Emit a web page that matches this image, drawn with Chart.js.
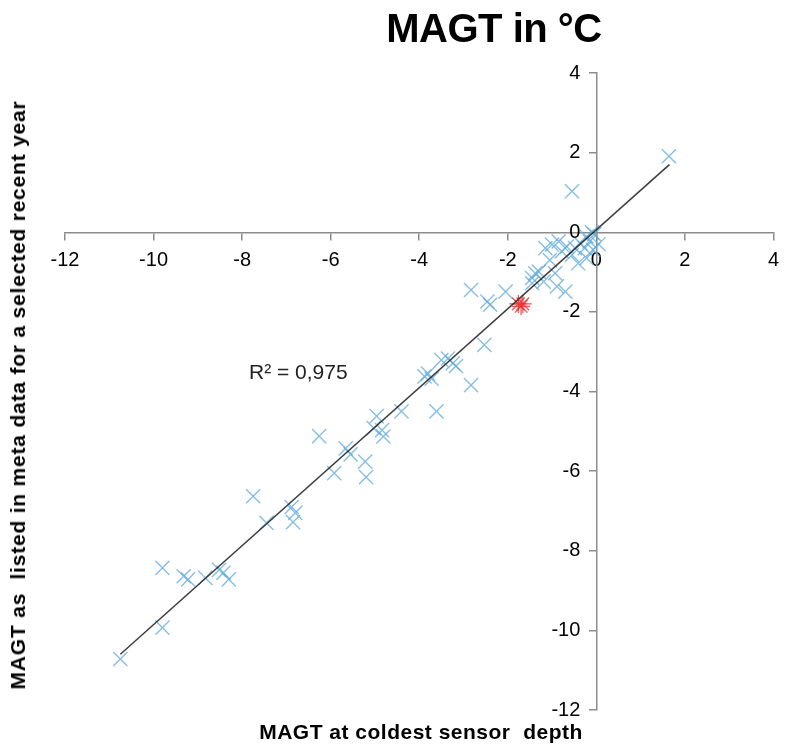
<!DOCTYPE html>
<html>
<head>
<meta charset="utf-8">
<script src="https://cdn.jsdelivr.net/npm/chart.js@4.4.1/dist/chart.umd.min.js"></script>
<style>
  html, body { margin: 0; padding: 0; background: #fff; }
  #wrap { position: relative; width: 788px; height: 746px; }
  #chart { position: absolute; left: 0; top: 0; }
  .lbl { position: absolute; font-family: "Liberation Sans", Arial, sans-serif; color: #000; white-space: nowrap; }
  #title { left: 494px; top: 6px; transform: translateX(-50%); font-size: 40px; font-weight: bold; letter-spacing: -0.5px; }
  #xTitle { left: 421px; top: 720px; transform: translateX(-50%); font-size: 21px; font-weight: bold; letter-spacing: 0.5px; }
  #yTitle { left: 18px; top: 395px; transform: translate(-50%, -50%) rotate(-90deg); font-size: 21px; font-weight: bold; letter-spacing: 0.8px; }
  #r2 { left: 249px; top: 360px; font-size: 21px; color: #222; }
</style>
</head>
<body>
<div id="wrap">
  <canvas id="chart" width="788" height="746"></canvas>
  <div class="lbl" id="title">MAGT in °C</div>
  <div class="lbl" id="xTitle">MAGT at coldest sensor&nbsp; depth</div>
  <div class="lbl" id="yTitle">MAGT as&nbsp; listed in meta data for a selected recent year</div>
  <div class="lbl" id="r2">R² = 0,975</div>
</div>
<script>
// station values
const coldestDepth = [
  1.64, -0.55, -10.75, -9.80, -9.80, -9.32, -9.22, -8.83, -8.52, -8.42, -8.30,
  -7.75, -7.45, -6.88, -6.80, -6.85, -6.26, -5.66, -5.55, -5.92, -5.22, -5.20,
  -4.96, -5.03, -4.84, -4.81, -4.40, -3.88, -3.80, -3.72, -3.50, -3.35, -3.24,
  -3.17, -2.83, -3.61, -2.53, -2.83, -2.46, -2.40, -2.05, -1.45, -1.38,
  -1.15, -1.00, -0.85, -0.78, -0.67, -0.55, -0.48, -0.37, -0.26, -0.22, -0.15,
  -0.07, -0.22, -0.41, -0.93, -0.89, -0.70, -1.30, -1.45, -1.19, 0.05, -0.05,
  -0.10, -1.05
];
const metaYear = [
  1.91, 1.03, -10.72, -9.93, -8.43, -8.64, -8.72, -8.68, -8.48, -8.55, -8.72,
  -6.63, -7.30, -6.90, -7.05, -7.28, -5.12, -5.43, -5.58, -6.05, -5.76, -6.15,
  -4.62, -4.92, -4.97, -5.13, -4.50, -3.62, -3.55, -3.68, -3.21, -3.17, -3.29,
  -3.36, -3.84, -4.50, -2.83, -1.45, -1.74, -1.82, -1.49, -1.28, -1.03,
  -0.40, -0.31, -0.23, -0.48, -0.36, -0.57, -0.40, -0.27, -0.40, -0.11, -0.23,
  -0.44, -0.65, -0.78, -1.03, -1.36, -1.49, -0.99, -1.15, -1.24, -0.30, -0.05,
  0.00, -0.70
];
const highlightX = [-1.76, -1.70, -1.66];
const highlightY = [-1.80, -1.86, -1.80];
const trendX = [-10.75, 1.65];
const trendY = [-10.60, 1.70];
const axisTicks = [-12, -10, -8, -6, -4, -2, 0, 2, 4];

const pts = (xs, ys) => xs.map((x, i) => ({ x: x, y: ys[i] }));
const font = { family: '"Liberation Sans", Arial, sans-serif', size: 20 };

// y labels sit left of the y axis crossing at x = 0
const yLabels = {
  id: 'yLabels',
  afterDraw(chart) {
    const c = chart.ctx;
    const x0 = chart.scales.x.getPixelForValue(0);
    c.save();
    c.fillStyle = '#000';
    c.font = '20px "Liberation Sans Narrow", "Liberation Sans", Arial, sans-serif';
    c.textAlign = 'right';
    c.textBaseline = 'middle';
    axisTicks.forEach(v => {
      c.fillText(String(v), x0 - 16, chart.scales.y.getPixelForValue(v));
    });
    c.restore();
  }
};

const ctx = document.getElementById('chart').getContext('2d');
new Chart(ctx, {
  type: 'scatter',
  data: {
    datasets: [{
      label: 'Trend',
      type: 'line',
      data: pts(trendX, trendY),
      borderColor: 'rgba(40, 40, 40, 0.9)',
      borderWidth: 1.5,
      pointRadius: 0,
      fill: false,
      order: 0
    }, {
      label: 'Highlight',
      data: pts(highlightX, highlightY),
      pointStyle: 'star',
      pointRadius: 9,
      borderColor: 'rgba(235, 45, 45, 0.8)',
      backgroundColor: 'rgba(235, 45, 45, 0.8)',
      pointBorderWidth: 1.3,
      order: 1
    }, {
      label: 'MAGT',
      data: pts(coldestDepth, metaYear),
      pointStyle: 'crossRot',
      pointRadius: 10,
      borderColor: 'rgba(95, 170, 218, 0.75)',
      pointBorderWidth: 1.4,
      order: 2
    }]
  },
  options: {
    responsive: false,
    animation: false,
    layout: { padding: { left: 65, right: 8, top: 73, bottom: 36 } },
    plugins: {
      legend: { display: false },
      tooltip: { enabled: false }
    },
    scales: {
      x: {
        type: 'linear',
        min: -12,
        max: 4,
        position: { y: 0 },
        afterBuildTicks: axis => { axis.ticks = axisTicks.map(v => ({ value: v })); },
        grid: { drawOnChartArea: false, drawTicks: true, tickLength: 7, color: '#8c8c8c', lineWidth: 1.5 },
        border: { display: true, color: '#8c8c8c', width: 1.5 },
        ticks: { color: '#000', font: font, padding: 9, maxRotation: 0, autoSkip: false }
      },
      y: {
        type: 'linear',
        min: -12,
        max: 4,
        position: { x: 0 },
        afterBuildTicks: axis => { axis.ticks = axisTicks.map(v => ({ value: v })); },
        grid: { drawOnChartArea: false, drawTicks: true, tickLength: 7, color: '#8c8c8c', lineWidth: 1.5 },
        border: { display: true, color: '#8c8c8c', width: 1.5 },
        ticks: { display: false }
      }
    }
  },
  plugins: [yLabels]
});
</script>
</body>
</html>
